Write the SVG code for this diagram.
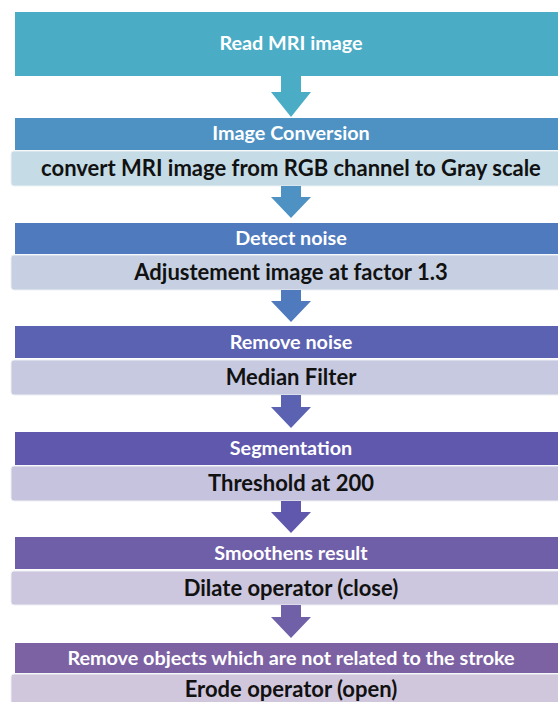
<svg xmlns="http://www.w3.org/2000/svg" width="558" height="702" viewBox="0 0 558 702">
<style>
.hd{font-family:Lato,"Open Sans","Liberation Sans",sans-serif;font-weight:bold;font-size:19.8px;fill:#ffffff;text-anchor:middle}
.sb{font-family:Lato,"Open Sans","Liberation Sans",sans-serif;font-weight:bold;font-size:22px;fill:#111111;text-anchor:middle}
.sub{stroke:#eef0f4;stroke-width:1}
</style>
<rect width="558" height="702" fill="#ffffff"/>
<g id="n1">
<rect x="15" y="12" width="560" height="64" fill="#4BACC6"/>
<text class="hd" x="291" y="50">Read MRI image</text>
</g>
<g id="n2">
<rect x="15" y="118" width="560" height="32" fill="#4E92C3"/>
<text class="hd" x="291" y="140">Image Conversion</text>
<rect class="sub" x="11" y="151" width="570" height="35" rx="3" fill="#C5DCE6"/>
<text class="sb" x="291" y="176">convert MRI image from RGB channel to Gray scale</text>
</g>
<g id="n3">
<rect x="15" y="223" width="560" height="31" fill="#4F7BBE"/>
<text class="hd" x="291" y="245">Detect noise</text>
<rect class="sub" x="11" y="255" width="570" height="35" rx="3" fill="#C6D0E2"/>
<text class="sb" x="291" y="280">Adjustement image at factor 1.3</text>
</g>
<g id="n4">
<rect x="15" y="326" width="560" height="32" fill="#5B62B2"/>
<text class="hd" x="291" y="349">Remove noise</text>
<rect class="sub" x="11" y="360" width="570" height="35" rx="3" fill="#C6C9E0"/>
<text class="sb" x="291" y="385">Median Filter</text>
</g>
<g id="n5">
<rect x="15" y="432" width="560" height="33" fill="#5F58AC"/>
<text class="hd" x="291" y="455">Segmentation</text>
<rect class="sub" x="11" y="466" width="570" height="35" rx="3" fill="#C5C3DD"/>
<text class="sb" x="291" y="491">Threshold at 200</text>
</g>
<g id="n6">
<rect x="15" y="537" width="560" height="32" fill="#6F5EA8"/>
<text class="hd" x="291" y="560">Smoothens result</text>
<rect class="sub" x="11" y="571" width="570" height="34" rx="3" fill="#CCC6DE"/>
<text class="sb" x="291" y="596">Dilate operator (close)</text>
</g>
<g id="n7">
<rect x="15" y="643" width="560" height="30" fill="#7D62A3"/>
<text class="hd" x="291" y="665">Remove objects which are not related to the stroke</text>
<rect class="sub" x="11" y="674" width="570" height="40" rx="3" fill="#D0C7DD"/>
<text class="sb" x="291" y="696.5">Erode operator (open)</text>
</g>
<g id="connectors">
<path d="M281,76 H301 V92 H311 L291,117 L271,92 H281 Z" fill="#4BACC6"/>
<path d="M281,186 H301 V197 H311 L291,218 L271,197 H281 Z" fill="#4E92C3"/>
<path d="M281,290 H301 V301 H311 L291,322 L271,301 H281 Z" fill="#4F7BBE"/>
<path d="M281,395 H301 V407 H311 L291,428 L271,407 H281 Z" fill="#5B62B2"/>
<path d="M281,501 H301 V512 H311 L291,533 L271,512 H281 Z" fill="#5F58AC"/>
<path d="M281,605 H301 V617 H311 L291,638 L271,617 H281 Z" fill="#7060A8"/>
</g>
</svg>
